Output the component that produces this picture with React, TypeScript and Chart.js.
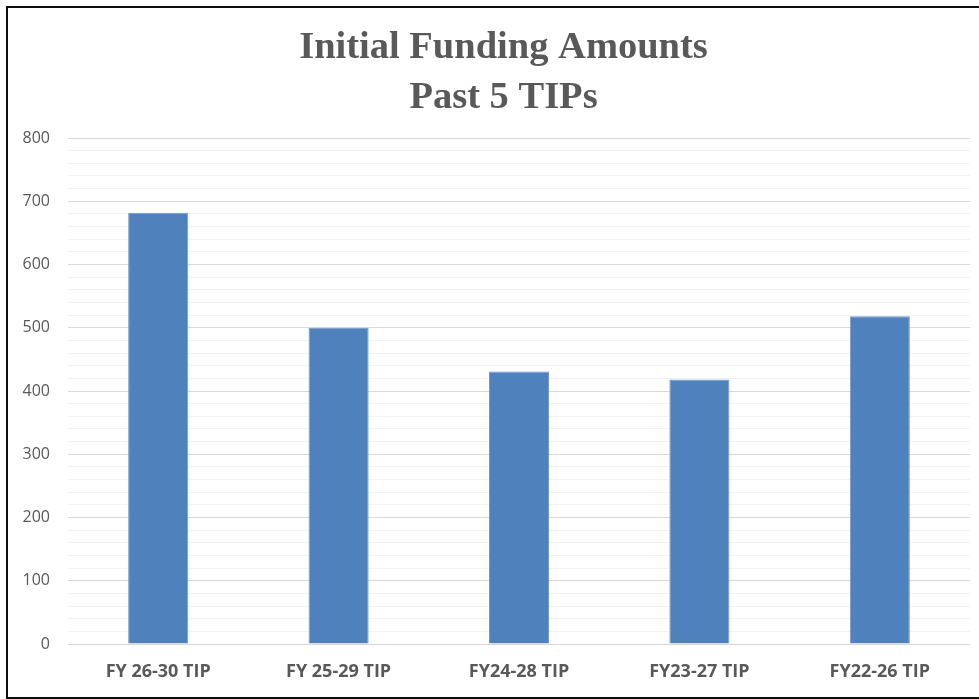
import React, { useEffect, useRef } from "react";
import { Chart, registerables } from "chart.js";

Chart.register(...registerables);

const categories = ["FY 26-30 TIP", "FY 25-29 TIP", "FY24-28 TIP", "FY23-27 TIP", "FY22-26 TIP"];
const fundingValues = [682, 500, 431, 418, 518];
const titleLines = ["Initial Funding Amounts", "Past 5 TIPs"];
const yMin = 0;
const yMax = 800;
const yMinorStep = 20;
const yMajorStep = 100;

const TITLE_SIZE = 38.5;
const TITLE_LINE = 50;
const TITLE_PAD_TOP = 15;
const TITLE_FONT = `bold ${TITLE_SIZE}px 'Liberation Serif', serif`;

// Draws the (layout-reserving, transparent) built-in title text centred on the canvas.
const centeredTitle = {
  id: "centeredTitle",
  afterDraw(chart: any) {
    const block = chart.titleBlock;
    if (!block) return;
    const ctx = chart.ctx;
    ctx.save();
    ctx.font = TITLE_FONT;
    ctx.fillStyle = "#595959";
    ctx.textAlign = "center";
    ctx.textBaseline = "middle";
    titleLines.forEach((line, i) => {
      ctx.fillText(line, chart.width / 2, block.top + TITLE_PAD_TOP + TITLE_LINE * (i + 0.5));
    });
    ctx.restore();
  },
};

export default function App() {
  const canvasRef = useRef<HTMLCanvasElement | null>(null);

  useEffect(() => {
    if (!canvasRef.current) return;
    const chart = new Chart(canvasRef.current, {
      type: "bar",
      data: {
        labels: categories,
        datasets: [
          {
            data: fundingValues,
            backgroundColor: "#4F81BD",
            borderColor: "#6F97CA",
            borderWidth: 1,
            barPercentage: 0.333,
            categoryPercentage: 1,
          },
        ],
      },
      plugins: [centeredTitle],
      options: {
        responsive: false,
        animation: false,
        devicePixelRatio: 1,
        layout: { padding: { left: 0, right: 29, top: 0, bottom: 0 } },
        plugins: {
          legend: { display: false },
          tooltip: { enabled: false },
          title: {
            display: true,
            text: titleLines,
            color: "rgba(0,0,0,0)",
            font: {
              family: "'Liberation Serif', serif",
              size: TITLE_SIZE,
              weight: "bold",
              lineHeight: TITLE_LINE / TITLE_SIZE,
            },
            padding: { top: TITLE_PAD_TOP, bottom: 15 },
          },
        },
        scales: {
          x: {
            grid: { display: false, drawTicks: false },
            border: { display: false },
            ticks: {
              color: "#595959",
              padding: 17,
              font: { family: "'Open Sans', sans-serif", size: 18, weight: "bold" },
              maxRotation: 0,
            },
            afterFit: (scale: any) => {
              scale.height = 53;
            },
          },
          y: {
            min: yMin,
            max: yMax,
            grid: {
              drawTicks: false,
              lineWidth: 1,
              color: (ctx: any) =>
                ctx.tick && ctx.tick.value % yMajorStep === 0 ? "#D9D9D9" : "#F2F2F2",
            },
            border: { display: false },
            ticks: {
              stepSize: yMinorStep,
              autoSkip: false,
              color: "#595959",
              padding: 18,
              font: { family: "'Open Sans', sans-serif", size: 16 },
              callback: (v: any) => (Number(v) % yMajorStep === 0 ? String(v) : ""),
            },
            afterFit: (scale: any) => {
              scale.width = 60;
            },
          },
        },
      },
    });
    return () => chart.destroy();
  }, []);

  return (
    <div
      style={{
        position: "fixed",
        left: 0,
        top: 0,
        width: 979,
        height: 699,
        overflow: "hidden",
        background: "#ffffff",
      }}
    >
      <canvas
        ref={canvasRef}
        width={991}
        height={689}
        style={{ position: "absolute", left: 8, top: 8, width: 991, height: 689 }}
      />
      <div
        style={{
          position: "absolute",
          left: 6,
          top: 6,
          width: 1010,
          height: 693,
          boxSizing: "border-box",
          border: "2px solid #0d0d0d",
        }}
      />
    </div>
  );
}
